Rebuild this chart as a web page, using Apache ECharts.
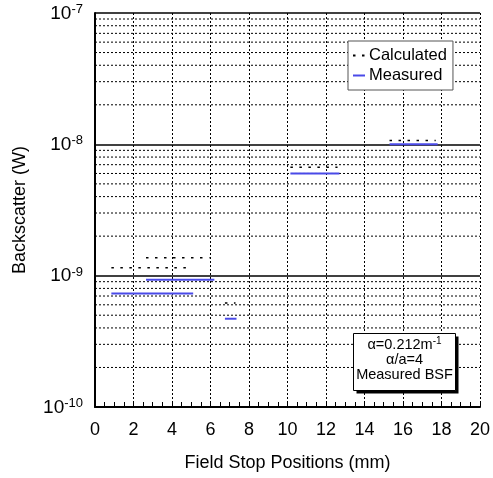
<!DOCTYPE html>
<html><head><meta charset="utf-8">
<script src="https://cdn.jsdelivr.net/npm/echarts@6/dist/echarts.min.js"></script>
<style>html,body{margin:0;padding:0;background:#fff}#c{width:493px;height:478px}</style>
</head><body><div id="c"></div>
<script>
// ---- data ----
const calcStart = [0.85, 2.65, 6.75, 10.15, 15.3];
const calcEnd   = [5.05, 5.95, 7.3, 12.6, 17.7];
const calcValue = [1.15e-9, 1.37e-9, 6.2e-10, 6.7e-9, 1.07e-8];
const measStart = [0.85, 2.65, 6.75, 10.15, 15.3];
const measEnd   = [5.1, 6.2, 7.35, 12.7, 17.8];
const measValue = [7.3e-10, 9.3e-10, 4.7e-10, 6.0e-9, 1.0e-8];
const decadeExps = [-10, -9, -8];
const minorMult = [2, 3, 4, 5, 6, 7, 8, 9];
const xRange = [0, 20];

const FONT = 'Liberation Sans, Arial, Helvetica, sans-serif';
const minorVals = [];
decadeExps.forEach(e => minorMult.forEach(m => minorVals.push(m * Math.pow(10, e))));

const series = [];
minorVals.forEach(v => series.push({
  name: 'grid', type: 'line', symbol: 'none', silent: true, z: 1,
  data: [[xRange[0], v], [xRange[1], v]],
  lineStyle: { color: '#000', width: 1, type: [2, 2] }
}));
calcStart.forEach((s, i) => series.push({
  name: 'Calculated', type: 'line', symbol: 'none', silent: true,
  data: [[s, calcValue[i]], [calcEnd[i], calcValue[i]]],
  lineStyle: { color: '#000', width: 1.5, type: [2.5, 6.5] }, itemStyle: { color: '#000' }, z: 5
}));
measStart.forEach((s, i) => series.push({
  name: 'Measured', type: 'line', symbol: 'none', silent: true,
  data: [[s, measValue[i]], [measEnd[i], measValue[i]]],
  lineStyle: { color: '#4a4ae8', width: 2 }, itemStyle: { color: '#4a4ae8' }, z: 5
}));

const chart = echarts.init(document.getElementById('c'), null, { renderer: 'canvas' });
chart.setOption({
  animation: false,
  backgroundColor: '#fff',
  grid: { left: 95, right: 11, top: 13, bottom: 71 },
  legend: {
    data: ['Calculated', 'Measured'], orient: 'vertical', left: 348, top: 41, z: 20,
    itemWidth: 12, itemHeight: 14, itemGap: 3,
    padding: [6, 6, 6, 4], borderColor: '#555', borderWidth: 1, backgroundColor: '#fff',
    itemStyle: { opacity: 0 },
    textStyle: { fontFamily: FONT, fontSize: 16.5, color: '#000', padding: [0, 0, 0, -1] }
  },
  xAxis: {
    type: 'value', min: xRange[0], max: xRange[1], interval: 2,
    name: 'Field Stop Positions (mm)', nameLocation: 'middle', nameGap: 47,
    nameTextStyle: { fontFamily: FONT, fontSize: 18, color: '#000' },
    axisLine: { lineStyle: { color: '#000', width: 2 } },
    axisTick: { inside: true, length: 6, lineStyle: { color: '#000' } },
    minorTick: { show: true, splitNumber: 4, length: 5, lineStyle: { color: '#000' } },
    axisLabel: { fontFamily: FONT, fontSize: 18, color: '#000', margin: 14 },
    splitLine: { show: true, lineStyle: { color: '#000', width: 1, type: [2, 2] } }
  },
  yAxis: {
    type: 'log', logBase: 10, min: 1e-10, max: 1e-7,
    name: 'Backscatter (W)', nameLocation: 'middle', nameGap: 66, nameRotate: 90,
    nameTextStyle: { fontFamily: FONT, fontSize: 18, color: '#000' },
    axisLine: { lineStyle: { color: '#000', width: 2 } },
    axisTick: { show: false },
    axisLabel: {
      margin: 12,
      formatter: v => '{b|10}{s|' + Math.round(Math.log10(v)) + '}',
      rich: {
        b: { fontFamily: FONT, fontSize: 19, color: '#000', verticalAlign: 'bottom' },
        s: { fontFamily: FONT, fontSize: 13, color: '#000', verticalAlign: 'bottom', padding: [0, 0, 7, 0] }
      }
    },
    splitLine: { show: true, lineStyle: { color: '#000', width: 1.5 } }
  },
  graphic: [{
    type: 'group', left: 353, top: 333, z: 100,
    children: [
      { type: 'rect', z: 100, shape: { x: 3, y: 3, width: 102, height: 57 }, style: { fill: '#000' } },
      { type: 'rect', z: 101, shape: { x: 0, y: 0, width: 102, height: 57 },
        style: { fill: '#fff', stroke: '#000', lineWidth: 1 } },
      { type: 'text', z: 102, x: 51, y: 4,
        style: { text: '{t|α=0.212m}{s|-1}\n{t|α/a=4}\n{t|Measured BSF}', align: 'center', verticalAlign: 'top',
          rich: { t: { fontFamily: FONT, fontSize: 14.5, color: '#000', lineHeight: 15, verticalAlign: 'bottom' },
                  s: { fontFamily: FONT, fontSize: 10, color: '#000', verticalAlign: 'bottom', lineHeight: 15, padding: [0, 0, 6, 0] } } } }
    ]
  }],
  series: series
});
</script></body></html>
